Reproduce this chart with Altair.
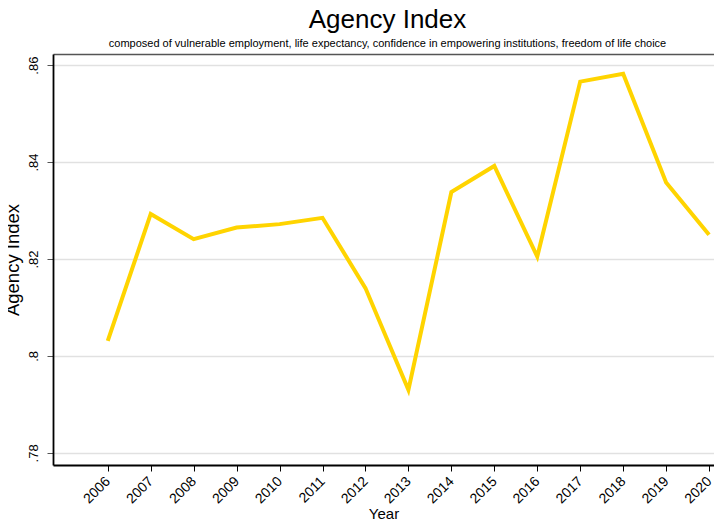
import altair as alt
import pandas as pd

years = [2006, 2007, 2008, 2009, 2010, 2011, 2012, 2013, 2014, 2015, 2016, 2017, 2018, 2019, 2020]
agency = [0.8031, 0.8293, 0.8241, 0.8265, 0.8272, 0.8285, 0.8140, 0.7930,
          0.8338, 0.8392, 0.8205, 0.8566, 0.8582, 0.8358, 0.8250]
y_ticks = [0.78, 0.80, 0.82, 0.84, 0.86]

df = pd.DataFrame({"Year": years, "Agency": agency})

FONT = "Liberation Sans"
x_scale = alt.Scale(domain=[2004.725, 2020.115], nice=False, zero=False)
y_scale = alt.Scale(domain=[0.7775, 0.8623], nice=False, zero=False)

label_expr = "datum.value == 0.8 ? '.8' : replace(format(datum.value, '.2f'), '0.', '.')"

main = alt.Chart(df).mark_line(color="#FFD400", strokeWidth=4).encode(
    x=alt.X("Year:Q", scale=x_scale,
            axis=alt.Axis(values=years, format="d", labelAngle=-45, labelAlign="right",
                          labelBaseline="middle", title="Year",
                          grid=False, domainColor="#000000", domainWidth=1.8,
                          tickColor="#000000", tickSize=6, labelFontSize=14,
                          titleFontSize=15, titleFontWeight="normal", labelColor="#000000",
                          titleColor="#000000", labelFont=FONT, titleFont=FONT,
                          labelPadding=8, titlePadding=1)),
    y=alt.Y("Agency:Q", scale=y_scale,
            axis=alt.Axis(values=y_ticks, labelExpr=label_expr, labelAngle=-90,
                          title="Agency Index", grid=True, gridColor="#E1E1E1",
                          gridWidth=1.5, domainColor="#000000", domainWidth=1.8,
                          tickColor="#555555", tickSize=6, labelFontSize=13,
                          titleFontSize=18.5, titleFontWeight="normal", labelColor="#000000",
                          titleColor="#000000", labelFont=FONT, titleFont=FONT,
                          labelPadding=7, titlePadding=5)),
)

top = alt.Chart(df).mark_line(opacity=0).encode(
    x=alt.X("Year:Q", scale=x_scale,
            axis=alt.Axis(orient="top", labels=False, ticks=False, title=None, grid=False,
                          domainColor="#555555", domainWidth=1.5)),
    y=alt.Y("Agency:Q", scale=y_scale,
            axis=alt.Axis(orient="right", labels=False, ticks=False, title=None,
                          grid=False, domain=False)),
)

chart = alt.layer(main, top).resolve_axis(x="independent", y="independent").properties(
    width=661,
    height=411,
    autosize=alt.AutoSizeParams(type="none"),
    padding={"left": 45, "top": 46, "right": 0, "bottom": 55},
    title=alt.Title(
        "Agency Index",
        subtitle="composed of vulnerable employment, life expectancy, confidence in empowering institutions, freedom of life choice",
        font=FONT, fontSize=26, fontWeight="normal", color="#000000",
        subtitleFont=FONT, subtitleFontSize=11, subtitleColor="#000000",
        anchor="middle", offset=5, subtitlePadding=5, dx=4,
    ),
).configure_view(stroke="transparent")

chart.save("out.html", embed_options={"renderer": "svg", "actions": False})
